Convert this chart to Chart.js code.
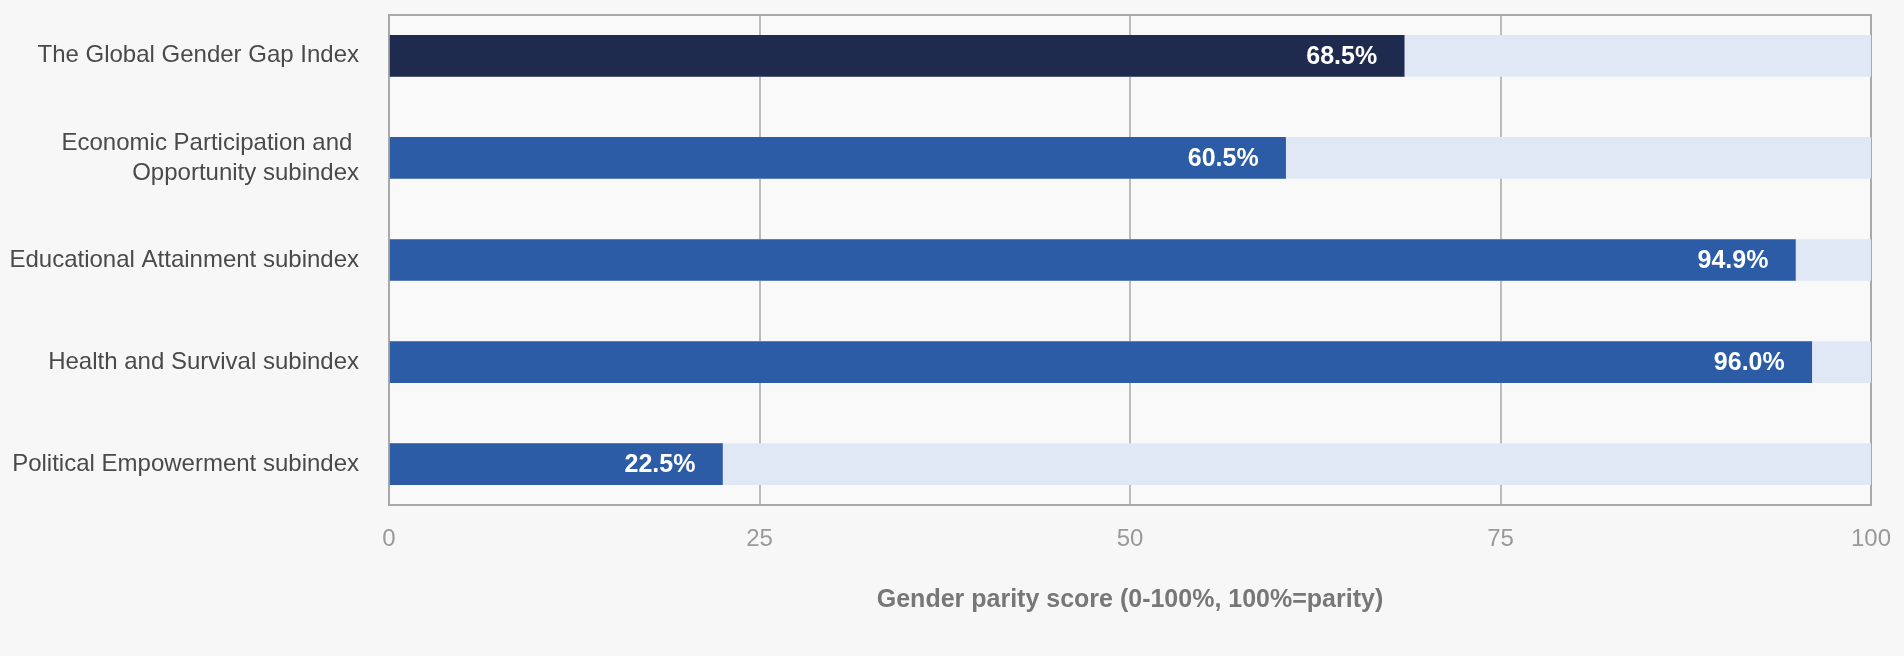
<!DOCTYPE html>
<html>
<head>
<meta charset="utf-8">
<script src="https://cdn.jsdelivr.net/npm/chart.js@4/dist/chart.umd.min.js"></script>
<style>
  html, body { margin: 0; padding: 0; background: #f7f7f7; }
  #wrap { width: 1904px; height: 656px; position: relative; }
</style>
</head>
<body>
<div id="wrap"><canvas id="gapChart"></canvas></div>
<script>
// chart data
const categories = [
  'The Global Gender Gap Index',
  ['Economic Participation and ', 'Opportunity subindex'],
  'Educational Attainment subindex',
  'Health and Survival subindex',
  'Political Empowerment subindex'
];
const scores = [68.5, 60.5, 94.9, 96.0, 22.5];
const parityMax = [100, 100, 100, 100, 100];
const xTickValues = [0, 25, 50, 75, 100];
const axisTitle = 'Gender parity score (0-100%, 100%=parity)';

const FONT = "'Liberation Sans', Arial, Helvetica, sans-serif";
const barColors = scores.map((v, i) => i === 0 ? '#1f2a4f' : '#2c5ca5');

// plot box + lighter plot background
const plotBox = {
  id: 'plotBox',
  beforeDraw(chart) {
    const { ctx, chartArea: a } = chart;
    ctx.save();
    ctx.fillStyle = '#f9f9f9';
    ctx.fillRect(a.left, a.top, a.right - a.left, a.bottom - a.top);
    ctx.restore();
  },
  beforeDatasetsDraw(chart) {
    const { ctx, chartArea: a } = chart;
    ctx.save();
    ctx.strokeStyle = '#a9a9a9';
    ctx.lineWidth = 2;
    ctx.strokeRect(a.left, a.top, a.right - a.left, a.bottom - a.top);
    ctx.restore();
  }
};

// white value labels inside bar ends
const valueLabels = {
  id: 'valueLabels',
  afterDatasetsDraw(chart) {
    const { ctx } = chart;
    const meta = chart.getDatasetMeta(0);
    ctx.save();
    ctx.font = `bold 25px ${FONT}`;
    ctx.fillStyle = '#ffffff';
    ctx.textAlign = 'right';
    ctx.textBaseline = 'middle';
    meta.data.forEach((bar, i) => {
      ctx.fillText(scores[i].toFixed(1) + '%', bar.x - 27, bar.y + 1);
    });
    ctx.restore();
  }
};

new Chart(document.getElementById('gapChart'), {
  type: 'bar',
  data: {
    datasets: [
      {
        data: scores.map((v, i) => ({ x: v, y: i })),
        backgroundColor: barColors,
        grouped: false,
        barThickness: 41
      },
      {
        data: parityMax.map((v, i) => ({ x: v, y: i })),
        backgroundColor: '#e1e8f5',
        grouped: false,
        barThickness: 41
      }
    ]
  },
  options: {
    indexAxis: 'y',
    responsive: true,
    maintainAspectRatio: false,
    animation: false,
    layout: { padding: { top: 15, right: 33, left: 0, bottom: 0 } },
    plugins: {
      legend: { display: false },
      tooltip: { enabled: false }
    },
    scales: {
      x: {
        type: 'linear',
        min: 0,
        max: 100,
        afterBuildTicks: s => { s.ticks = xTickValues.map(v => ({ value: v })); },
        afterFit: s => { s.height = 151; s.paddingLeft = 0; s.paddingRight = 0; },
        grid: { color: '#bcbcbc', lineWidth: 2, drawTicks: false },
        border: { display: false },
        ticks: { color: '#9a9a9a', padding: 20, font: { family: FONT, size: 24 } },
        title: {
          display: true,
          text: axisTitle,
          color: '#777777',
          font: { family: FONT, size: 25, weight: 'bold' },
          padding: { top: 0, bottom: 41 }
        }
      },
      y: {
        type: 'linear',
        offset: false,
        bounds: 'data',
        min: -0.4,
        max: 4.4,
        reverse: true,
        afterBuildTicks: s => { s.ticks = categories.map((c, i) => ({ value: i })); },
        afterFit: s => { s.width = 389; s.paddingTop = 0; s.paddingBottom = 0; },
        grid: { display: false, offset: false },
        border: { display: false },
        ticks: {
          color: '#4a4a4a',
          padding: 22,
          font: { family: FONT, size: 24, lineHeight: 1.25 },
          callback: v => categories[v] !== undefined ? categories[v] : ''
        }
      }
    }
  },
  plugins: [plotBox, valueLabels]
});
</script>
</body>
</html>
